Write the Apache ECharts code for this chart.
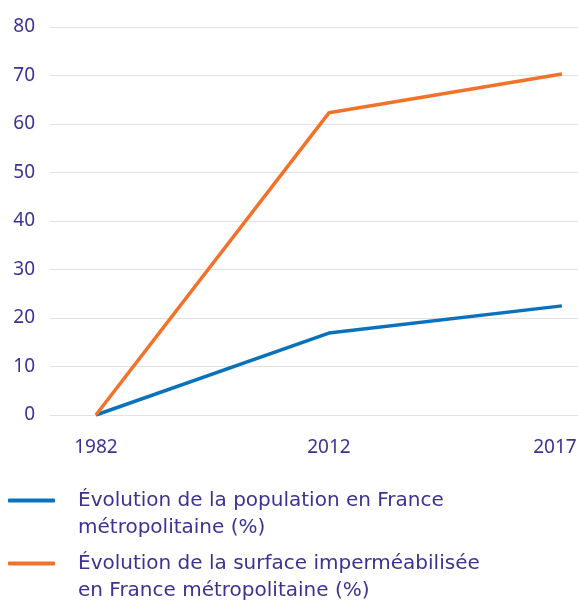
<!DOCTYPE html>
<html>
<head>
<meta charset="utf-8">
<script src="https://cdn.jsdelivr.net/npm/echarts@6/dist/echarts.min.js"></script>
<style>
  html, body { margin: 0; padding: 0; background: #fff; }
  #chart { width: 578px; height: 606px; }
</style>
</head>
<body>
<div id="chart"></div>
<script>
const years = ["1982", "2012", "2017"];
const population = [0, 16.9, 22.5];
const surface = [0, 62.3, 70.3];
const yTicks = [0, 10, 20, 30, 40, 50, 60, 70, 80];

const popName = "Évolution de la population en France\nmétropolitaine (%)";
const surfName = "Évolution de la surface imperméabilisée\nen France métropolitaine (%)";

const textColor = "#3b3393";
const font = "Noto Sans";

const chart = echarts.init(document.getElementById("chart"));

// leading blank line so the icon lines up with the first text line
const legendText = {
  color: textColor,
  fontFamily: "DejaVu Sans",
  fontSize: 20,
  lineHeight: 27,
  padding: [0, 0, 0, 18]
};

const option = {
  animation: false,
  grid: { left: 50, right: 0, top: 27, bottom: 191, outerBoundsMode: "none", containLabel: false },
  xAxis: {
    type: "value",
    min: -0.197,
    max: 2.069,
    axisLine: { show: false },
    axisTick: { show: false },
    splitLine: { show: false },
    axisLabel: {
      customValues: [0, 1, 2],
      formatter: v => {
        const i = Math.round(v);
        return i === years.length - 1 ? "{last|" + years[i] + "}" : years[i];
      },
      rich: { last: { padding: [0, 14, 0, 0], color: textColor, fontFamily: font, fontSize: 19 } },
      color: textColor,
      fontFamily: font,
      fontSize: 19,
      margin: 23
    }
  },
  yAxis: {
    type: "value",
    min: yTicks[0],
    max: yTicks[yTicks.length - 1],
    interval: 10,
    axisLine: { show: false },
    axisTick: { show: false },
    splitLine: { lineStyle: { color: "#e2e2e2", width: 1 } },
    axisLabel: {
      color: textColor,
      fontFamily: font,
      fontSize: 19,
      margin: 15,
      padding: [0, 0, 8, 0]
    }
  },
  legend: [
    {
      data: [popName],
      left: 8, top: 460, padding: 0,
      itemWidth: 47, itemHeight: 4,
      icon: "roundRect",
      formatter: n => "\n" + n,
      textStyle: legendText
    },
    {
      data: [surfName],
      left: 8, top: 523, padding: 0,
      itemWidth: 47, itemHeight: 4,
      icon: "roundRect",
      formatter: n => "\n" + n,
      textStyle: Object.assign({}, legendText, { padding: [0, 0, 0, 18] })
    }
  ],
  series: [
    {
      name: popName,
      type: "line",
      data: population.map((v, i) => [i, v]),
      showSymbol: false,
      symbol: "none",
      itemStyle: { color: "#0a72bb" },
      lineStyle: { color: "#0a72bb", width: 3.5 }
    },
    {
      name: surfName,
      type: "line",
      data: surface.map((v, i) => [i, v]),
      showSymbol: false,
      symbol: "none",
      itemStyle: { color: "#f2722a" },
      lineStyle: { color: "#f2722a", width: 3.5 }
    }
  ]
};

chart.setOption(option);
</script>
</body>
</html>
